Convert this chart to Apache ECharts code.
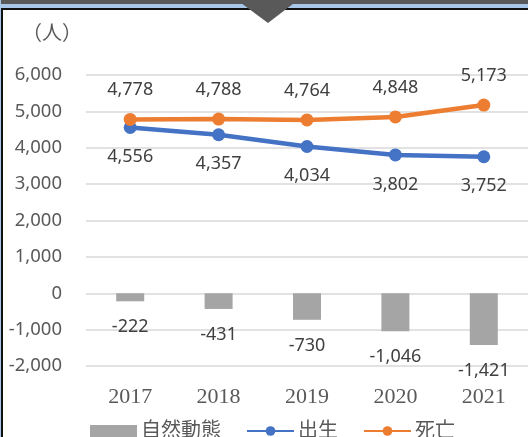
<!DOCTYPE html>
<html>
<head>
<meta charset="utf-8">
<script src="https://cdn.jsdelivr.net/npm/echarts@6/dist/echarts.min.js"></script>
<style>
  html, body { margin: 0; padding: 0; background: #fff; }
  #main { width: 528px; height: 437px; }
</style>
</head>
<body>
<div id="main"></div>
<script>
const years = ["2017", "2018", "2019", "2020", "2021"];
const natural = [-222, -431, -730, -1046, -1421];
const births = [4556, 4357, 4034, 3802, 3752];
const deaths = [4778, 4788, 4764, 4848, 5173];

const font = "'Noto Sans', 'Noto Sans CJK JP', sans-serif";
const textColor = "#595959";

function fmt(v) {
  return Number(v).toLocaleString("en-US");
}

const chart = echarts.init(document.getElementById("main"), null, { renderer: "canvas" });

const option = {
  backgroundColor: "#ffffff",
  animation: false,
  textStyle: { fontFamily: font },
  graphic: [
    // frame at the top and left
    { type: "rect", shape: { x: 0, y: 0, width: 528, height: 4 }, style: { fill: "#595959" }, z: 100 },
    { type: "rect", shape: { x: 0, y: 4, width: 528, height: 4 }, style: { fill: "#A9C7E8" }, z: 100 },
    { type: "rect", shape: { x: 0, y: 8, width: 528, height: 2 }, style: { fill: "#111111" }, z: 100 },
    { type: "rect", shape: { x: 0, y: 0, width: 1, height: 437 }, style: { fill: "#A9C7E8" }, z: 100 },
    { type: "rect", shape: { x: 1, y: 8, width: 2, height: 429 }, style: { fill: "#111111" }, z: 100 },
    { type: "polygon", shape: { points: [[237, 0], [298, 0], [268, 23]] }, style: { fill: "#595959" }, z: 101 },
    {
      type: "text", left: 22, top: 24,
      style: { text: "（人）", fontSize: 20, fill: textColor, fontFamily: font }
    }
  ],
  grid: { left: 86, right: -2, top: 75, bottom: 71, containLabel: false },
  legend: {
    left: 85,
    top: 416,
    itemWidth: 47,
    itemHeight: 12,
    itemGap: 25,
    textStyle: { fontSize: 20, color: textColor, fontFamily: font, padding: [0, 0, 0, -1] },
    data: [
      { name: "自然動態", icon: "rect" },
      { name: "出生" },
      { name: "死亡" }
    ]
  },
  xAxis: {
    type: "category",
    data: years,
    axisLine: { show: false },
    axisTick: { show: false },
    axisLabel: {
      color: textColor,
      fontSize: 22,
      fontFamily: "'Liberation Serif', 'DejaVu Serif', serif",
      margin: 20
    }
  },
  yAxis: {
    type: "value",
    min: -2000,
    max: 6000,
    interval: 1000,
    axisLine: { show: false },
    axisTick: { show: false },
    splitLine: { lineStyle: { color: "#D9D9D9", width: 1.5 } },
    axisLabel: {
      color: textColor,
      fontSize: 18.5,
      margin: 24,
      formatter: fmt
    }
  },
  series: [
    {
      name: "自然動態",
      type: "bar",
      data: natural,
      barWidth: 28,
      itemStyle: { color: "#A5A5A5" },
      label: {
        show: true,
        position: "bottom",
        distance: 17,
        color: "#404040",
        fontSize: 18,
        formatter: p => fmt(p.value)
      }
    },
    {
      name: "出生",
      type: "line",
      data: births,
      symbol: "circle",
      symbolSize: 13,
      lineStyle: { width: 4.5, color: "#4472C4" },
      itemStyle: { color: "#4472C4" },
      label: {
        show: true,
        position: "bottom",
        distance: 14,
        color: "#404040",
        fontSize: 18,
        formatter: p => fmt(p.value)
      },
      z: 3
    },
    {
      name: "死亡",
      type: "line",
      data: deaths,
      symbol: "circle",
      symbolSize: 13,
      lineStyle: { width: 4.5, color: "#ED7D31" },
      itemStyle: { color: "#ED7D31" },
      label: {
        show: true,
        position: "top",
        distance: 14,
        color: "#404040",
        fontSize: 18,
        formatter: p => fmt(p.value)
      },
      z: 4
    }
  ]
};

chart.setOption(option);
</script>
</body>
</html>
